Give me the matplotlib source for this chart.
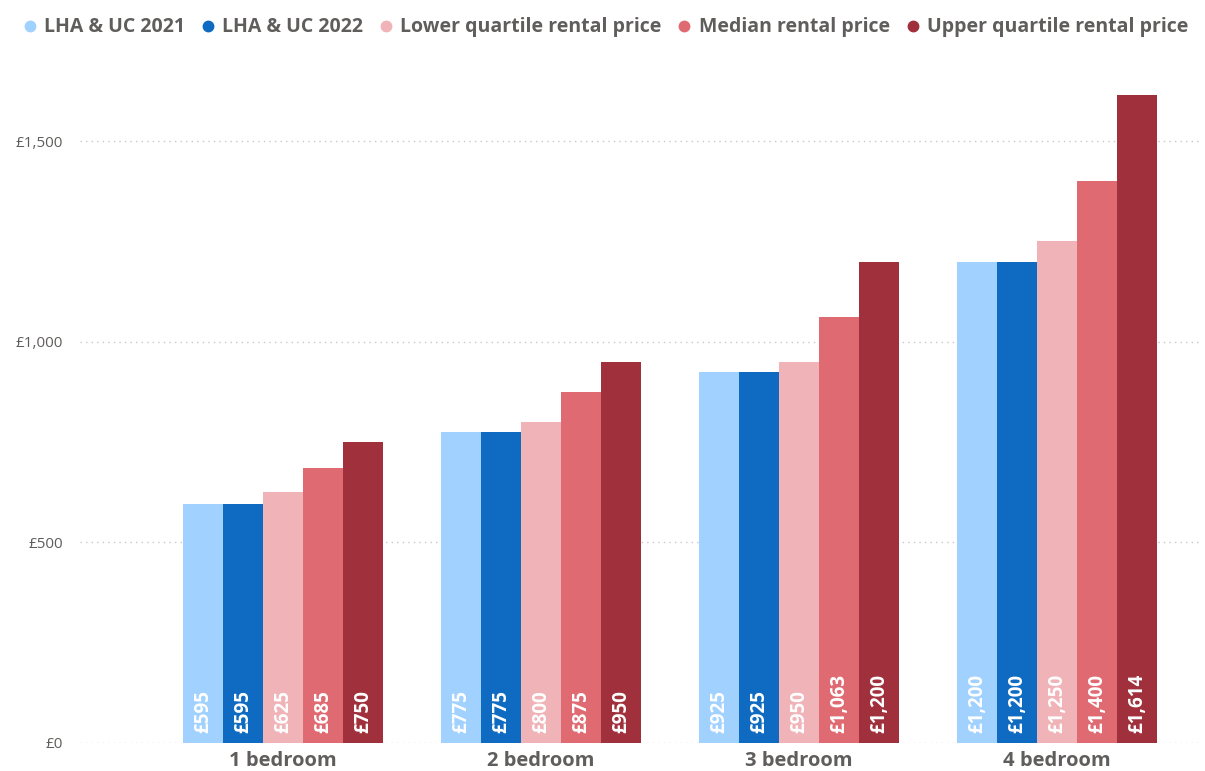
import matplotlib
matplotlib.use("Agg")
import matplotlib.pyplot as plt
from matplotlib.lines import Line2D
import numpy as np

categories = ["1 bedroom", "2 bedroom", "3 bedroom", "4 bedroom"]
series_names = ["LHA & UC 2021", "LHA & UC 2022", "Lower quartile rental price",
                "Median rental price", "Upper quartile rental price"]
lha_2021 = [595, 775, 925, 1200]
lha_2022 = [595, 775, 925, 1200]
lower_q = [625, 800, 950, 1250]
median = [685, 875, 1063, 1400]
upper_q = [750, 950, 1200, 1614]
colors = ["#A0D1FF", "#0F6BC1", "#F0B4B8", "#E06A72", "#A0313C"]
yticks = [0, 500, 1000, 1500]
ytick_labels = ["£0", "£500", "£1,000", "£1,500"]

series = [lha_2021, lha_2022, lower_q, median, upper_q]

plt.rcParams['font.family'] = ['Open Sans', 'DejaVu Sans']
fig = plt.figure(figsize=(12.05, 7.71), dpi=100)
ax = fig.add_axes([80/1205, (771-743)/771, 1120/1205, (743-81)/771])

x = np.arange(len(categories))
bw = 0.155
for i, (vals, c) in enumerate(zip(series, colors)):
    pos = x + (i - 2) * bw
    ax.bar(pos, vals, width=bw, color=c, zorder=3, linewidth=0)
    for p, v in zip(pos, vals):
        ax.annotate(f"£{v:,}", xy=(p, 0), xytext=(0, 7), textcoords="offset points",
                    rotation=90, ha="center", va="bottom", color="white",
                    fontsize=13.5, fontweight="bold", zorder=4)

ax.set_xlim(-0.787, 3.554)
ax.set_ylim(0, 1650)
ax.set_yticks(yticks)
ax.set_yticklabels(ytick_labels, color="#605E5C", fontsize=11)
ax.set_xticks(x)
ax.set_xticklabels(categories, fontsize=14.5, fontweight="bold", color="#605E5C")
ax.tick_params(axis="both", length=0)
ax.tick_params(axis="y", pad=12)
ax.tick_params(axis="x", pad=6)
for s in ax.spines.values():
    s.set_visible(False)
ax.grid(axis="y", color="#C8C8C8", linestyle=(0, (1, 3)), linewidth=1, zorder=0)

handles = [Line2D([0], [0], marker="o", linestyle="", markersize=7.5,
                  markerfacecolor=c, markeredgecolor=c) for c in colors]
leg = fig.legend(handles, series_names, loc="upper left", bbox_to_anchor=(0.002, 1.0),
                 ncol=5, frameon=False, handletextpad=0.25, columnspacing=0.66,
                 handlelength=1.0, prop={"weight": "bold", "size": 14})
for t in leg.get_texts():
    t.set_color("#605E5C")

fig.savefig("out.png", dpi=100, facecolor="white")
